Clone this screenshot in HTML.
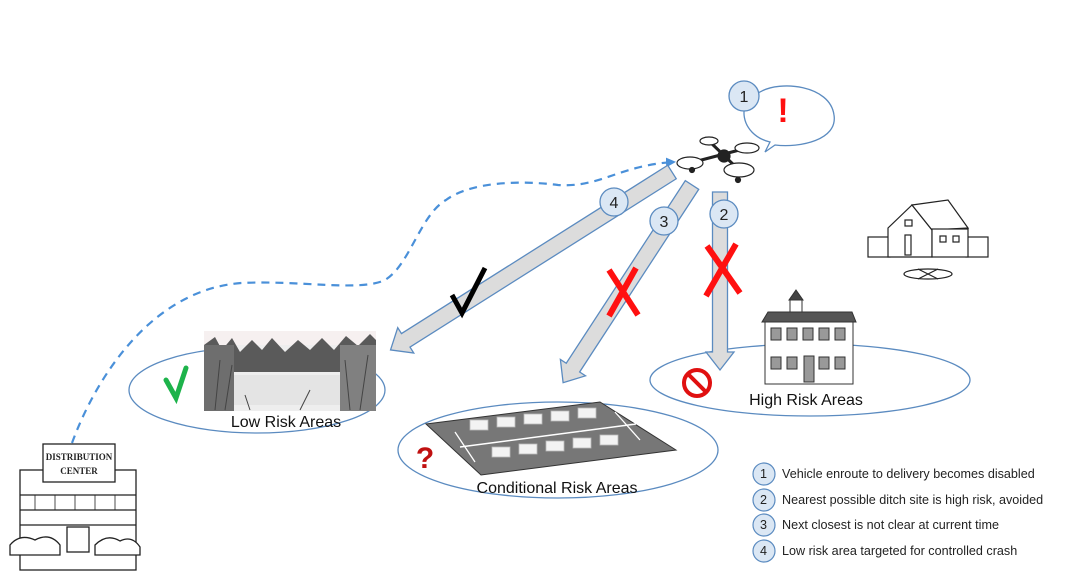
<!DOCTYPE html>
<html><head><meta charset="utf-8"><style>
html,body{margin:0;padding:0;background:#fff;}
svg{display:block;font-family:"Liberation Sans",sans-serif;}
</style></head><body>
<svg width="1068" height="580" viewBox="0 0 1068 580" xmlns="http://www.w3.org/2000/svg">
<defs>
<marker id="ah" markerWidth="10" markerHeight="10" refX="8" refY="5" orient="auto" markerUnits="userSpaceOnUse">
<path d="M0,0 L10,5 L0,10 z" fill="#4a90d9"/></marker>
</defs>
<!-- ellipses -->
<ellipse cx="257" cy="390" rx="128" ry="43" fill="none" stroke="#5b8bc0" stroke-width="1.3"/>
<ellipse cx="558" cy="450" rx="160" ry="48" fill="none" stroke="#5b8bc0" stroke-width="1.3"/>
<ellipse cx="810" cy="380" rx="160" ry="36" fill="none" stroke="#5b8bc0" stroke-width="1.3"/>

<!-- dashed path -->
<path d="M72,443 C95,380 150,290 241,283 C300,280 360,292 385,280 C410,265 420,215 446,200 C470,182 520,180 558,185 C600,188 620,165 674,162" fill="none" stroke="#4a90d9" stroke-width="2.2" stroke-dasharray="8,6" marker-end="url(#ah)"/>

<!-- arrows -->
<g fill="#dcdcdc" stroke="#5b8bc0" stroke-width="1.3">
<polygon transform="translate(672,172) rotate(147.7)" points="0,-8 315,-8 315,-15 333,0 315,15 315,8 0,8"/>
<polygon transform="translate(692,185) rotate(123.1)" points="0,-8 218,-8 218,-15 236,0 218,15 218,8 0,8"/>
<polygon transform="translate(720,192) rotate(90)" points="0,-7.5 160,-7.5 160,-14 178,0 160,14 160,7.5 0,7.5"/>
</g>
<!-- number circles -->
<g fill="#dbe7f4" stroke="#5b8bc0" stroke-width="1.3">
<circle cx="614" cy="202" r="14"/><circle cx="664" cy="221" r="14"/><circle cx="724" cy="214" r="14"/>
</g>
<g font-size="16" fill="#222" text-anchor="middle">
<text x="614" y="208">4</text><text x="664" y="227">3</text><text x="724" y="220">2</text>
</g>

<!-- marks -->
<g stroke="#ff1010" stroke-width="6" fill="none">
<path d="M609,270 L638,315 M636,268 L609,316"/>
<path d="M707,246 L740,293 M736,244 L706,296"/>
</g>
<path d="M452,295 L462,313 L485,268" fill="none" stroke="#000" stroke-width="5"/>
<path d="M166,380 L176,398 L186,368" fill="none" stroke="#1db34b" stroke-width="5" stroke-linecap="round"/>
<text x="425" y="468" font-size="30" font-weight="bold" fill="#c01010" text-anchor="middle">?</text>
<circle cx="697" cy="383" r="13" fill="none" stroke="#e01010" stroke-width="4"/>
<line x1="688" y1="374" x2="706" y2="392" stroke="#e01010" stroke-width="4"/>

<!-- speech bubble -->
<path d="M770,142 C740,135 735,100 760,92 C780,80 830,85 834,115 C838,140 800,148 775,145 L765,152 Z" fill="#fff" stroke="#5b8bc0" stroke-width="1.3"/>
<circle cx="744" cy="96" r="15" fill="#dbe7f4" stroke="#5b8bc0" stroke-width="1.3"/>
<text x="744" y="102" font-size="16" text-anchor="middle" fill="#222">1</text>
<text x="783" y="122" font-size="34" font-weight="bold" fill="#ff1010" text-anchor="middle">!</text>

<!-- drone -->
<g stroke="#222" fill="#fff" stroke-width="1.2">
<line x1="690" y1="163" x2="747" y2="148" stroke-width="3"/>
<line x1="709" y1="141" x2="739" y2="170" stroke-width="3"/>
<circle cx="724" cy="156" r="6" fill="#222"/>
<ellipse cx="690" cy="163" rx="13" ry="6"/>
<ellipse cx="709" cy="141" rx="9" ry="4"/>
<ellipse cx="747" cy="148" rx="12" ry="5"/>
<ellipse cx="739" cy="170" rx="15" ry="7"/>
<circle cx="692" cy="170" r="2.5" fill="#222"/><circle cx="738" cy="180" r="2.5" fill="#222"/>
</g>

<!-- house -->
<g stroke="#222" fill="#fff" stroke-width="1.2">
<rect x="868" y="237" width="22" height="20"/><rect x="966" y="237" width="22" height="20"/>
<polygon points="888,228 912,205 932,230 932,257 888,257"/>
<polygon points="912,205 948,200 968,228 932,230"/>
<rect x="932" y="229" width="36" height="28"/>
<rect x="905" y="220" width="7" height="6"/><rect x="940" y="236" width="6" height="6"/><rect x="953" y="236" width="6" height="6"/>
<rect x="905" y="235" width="6" height="20"/>
<ellipse cx="928" cy="274" rx="24" ry="5"/>
<path d="M918,269 L938,279 M938,269 L918,279"/>
</g>

<!-- school -->
<g stroke="#333" stroke-width="1" fill="#fff">
<polygon points="796,290 803,300 789,300" fill="#444"/>
<rect x="790" y="300" width="12" height="12"/>
<polygon points="768,312 852,312 856,322 762,322" fill="#555"/>
<rect x="765" y="322" width="88" height="62"/>
<g fill="#999"><rect x="771" y="328" width="10" height="12"/><rect x="787" y="328" width="10" height="12"/><rect x="803" y="328" width="10" height="12"/><rect x="819" y="328" width="10" height="12"/><rect x="835" y="328" width="10" height="12"/>
<rect x="771" y="357" width="10" height="12"/><rect x="787" y="357" width="10" height="12"/><rect x="819" y="357" width="10" height="12"/><rect x="835" y="357" width="10" height="12"/><rect x="804" y="356" width="10" height="26"/></g>
</g>

<!-- wetland -->
<rect x="204" y="331" width="172" height="80" fill="#eee"/>
<rect x="204" y="331" width="172" height="14" fill="#f6f0f0"/>
<path d="M204,345 L215,337 L222,350 L232,338 L240,352 L252,340 L262,350 L272,338 L285,352 L298,340 L310,350 L322,338 L334,350 L346,336 L358,346 L370,334 L376,340 L376,372 L204,372 Z" fill="#5a5a5a"/>
<rect x="204" y="345" width="30" height="66" fill="#6e6e6e"/>
<rect x="340" y="345" width="36" height="66" fill="#808080"/>
<rect x="234" y="375" width="106" height="30" fill="#e4e4e4"/>
<g stroke="#444" stroke-width="1"><path d="M215,410 L220,360 M225,410 L232,365 M350,410 L345,360 M360,410 L368,355 M300,410 L310,390 M250,410 L245,395"/></g>

<!-- parking lot -->
<polygon points="426,424 600,402 676,450 481,475" fill="#777" stroke="#333"/>
<g fill="#f3f3f3" stroke="#bbb" stroke-width="0.8">
<rect x="470" y="420" width="18" height="10"/><rect x="497" y="417" width="18" height="10"/><rect x="524" y="414" width="18" height="10"/><rect x="551" y="411" width="18" height="10"/><rect x="578" y="408" width="18" height="10"/>
<rect x="492" y="447" width="18" height="10"/><rect x="519" y="444" width="18" height="10"/><rect x="546" y="441" width="18" height="10"/><rect x="573" y="438" width="18" height="10"/><rect x="600" y="435" width="18" height="10"/>
</g>
<line x1="460" y1="447" x2="636" y2="424" stroke="#fff" stroke-width="1.5"/>
<g stroke="#fff" stroke-width="1.3"><path d="M455,432 L475,462 M615,412 L640,440"/></g>

<!-- labels -->
<g font-size="16" fill="#111" text-anchor="middle">
<text x="286" y="427">Low Risk Areas</text>
<text x="557" y="493">Conditional Risk Areas</text>
<text x="806" y="405">High Risk Areas</text>
</g>

<!-- distribution center -->
<g stroke="#222" fill="#fff" stroke-width="1.3">
<rect x="20" y="470" width="116" height="100"/>
<line x1="20" y1="495" x2="136" y2="495"/><line x1="20" y1="510" x2="136" y2="510"/><line x1="20" y1="525" x2="136" y2="525"/>
<g stroke-width="0.8"><path d="M35,495 V510 M55,495 V510 M75,495 V510 M95,495 V510 M115,495 V510"/></g>
<rect x="43" y="444" width="72" height="38"/>
<rect x="67" y="527" width="22" height="25"/>
<path d="M10,545 q10,-12 25,-5 q15,-8 25,5 l0,10 l-50,0z M95,545 q12,-12 25,-4 q12,-6 20,6 l0,8 l-45,0z"/>
</g>
<g font-family="Liberation Serif,serif" font-weight="bold" font-size="9" text-anchor="middle" fill="#222">
<text x="79" y="460">DISTRIBUTION</text><text x="79" y="474">CENTER</text>
</g>

<!-- legend -->
<g fill="#dbe7f4" stroke="#5b8bc0" stroke-width="1.2">
<circle cx="764" cy="474" r="11"/><circle cx="764" cy="500" r="11"/><circle cx="764" cy="525" r="11"/><circle cx="764" cy="551" r="11"/>
</g>
<g font-size="12.6" fill="#222">
<text x="760" y="478">1</text><text x="760" y="504">2</text><text x="760" y="529">3</text><text x="760" y="555">4</text>
<text x="782" y="478">Vehicle enroute to delivery becomes disabled</text>
<text x="782" y="504">Nearest possible ditch site is high risk, avoided</text>
<text x="782" y="529">Next closest is not clear at current time</text>
<text x="782" y="555">Low risk area targeted for controlled crash</text>
</g>
</svg>
</body></html>
